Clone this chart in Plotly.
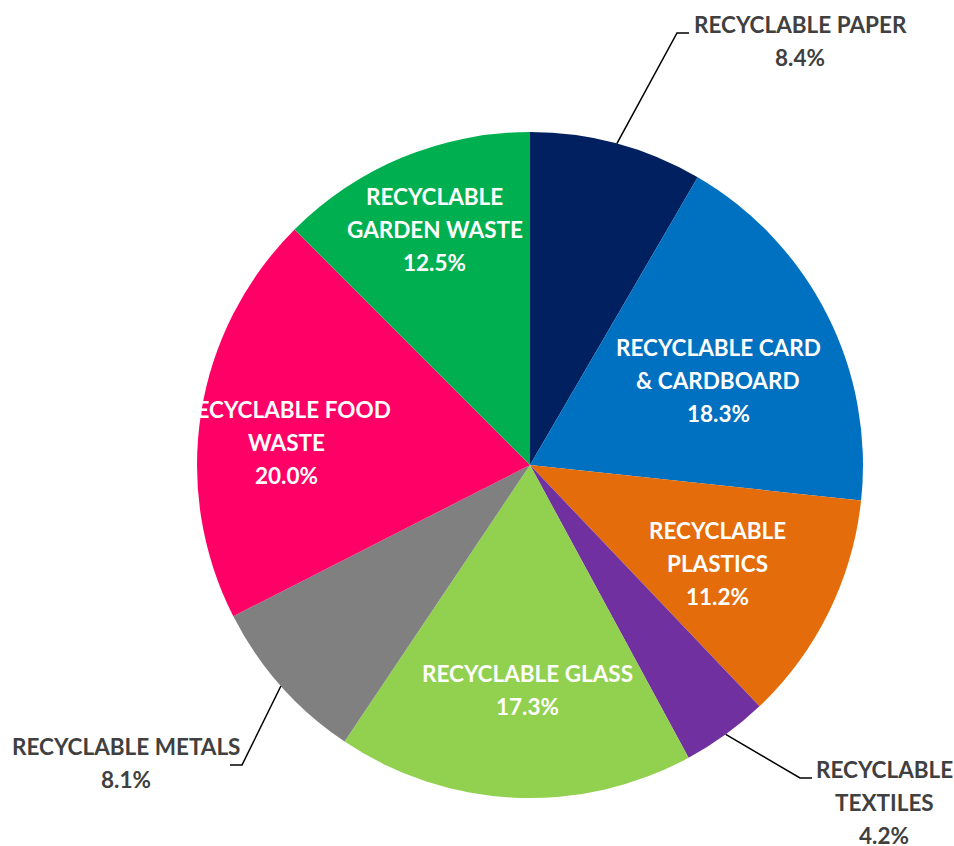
import math
import plotly.graph_objects as go

# Waste composition, clockwise from 12 o'clock
categories = [
    "RECYCLABLE PAPER",
    "RECYCLABLE CARD & CARDBOARD",
    "RECYCLABLE PLASTICS",
    "RECYCLABLE TEXTILES",
    "RECYCLABLE GLASS",
    "RECYCLABLE METALS",
    "RECYCLABLE FOOD WASTE",
    "RECYCLABLE GARDEN WASTE",
]
shares = [8.4, 18.3, 11.2, 4.2, 17.3, 8.1, 20.0, 12.5]
label_lines = [
    ["RECYCLABLE PAPER"],
    ["RECYCLABLE CARD", "& CARDBOARD"],
    ["RECYCLABLE", "PLASTICS"],
    ["RECYCLABLE", "TEXTILES"],
    ["RECYCLABLE GLASS"],
    ["RECYCLABLE METALS"],
    ["RECYCLABLE FOOD", "WASTE"],
    ["RECYCLABLE", "GARDEN WASTE"],
]

colors = ["#002060", "#0070C0", "#E46C0A", "#7030A0",
          "#92D050", "#808080", "#FF0066", "#00B050"]

W, H = 954, 846
CX, CY, R = 530, 465, 333          # pie centre and radius in pixels
FONT = "Lato"
FS = 22.5
LINE_GAP = 33                      # pixel spacing between label lines
OUT_COLOR = "#404040"

# inside labels: radius fraction along the slice bisector + pixel nudge
inside_style = {
    1: (0.62, (4, 9)),
    2: (0.645, (-5, 3)),
    4: (0.676, (8, 0)),
    6: (0.739, (0, 16)),
    7: (0.755, (1, -3)),
}
# outside labels: leader elbow, leader end, text block centre (pixels)
outside_style = {
    0: ((677, 33), (689, 33), (800, 41)),
    3: ((800, 778), (812, 778), (884, 802)),
    5: ((242, 765), (230, 765), (126, 763)),
}


def px(x, y):
    return x / W, 1 - y / H


def mid_angle(i):
    total = sum(shares)
    start = sum(shares[:i]) / total
    return 2 * math.pi * (start + shares[i] / total / 2)


def point_at(i, frac):
    a = mid_angle(i)
    return CX + frac * R * math.sin(a), CY - frac * R * math.cos(a)


fig = go.Figure(go.Pie(
    labels=categories,
    values=shares,
    sort=False,
    direction="clockwise",
    rotation=0,
    marker=dict(colors=colors, line=dict(width=0)),
    textinfo="none",
    hoverinfo="label+value",
    domain=dict(x=[(CX - R) / W, (CX + R) / W],
                y=[1 - (CY + R) / H, 1 - (CY - R) / H]),
))

annotations = []
shapes = []


def add_block(lines, cx, cy, color):
    n = len(lines)
    for k, t in enumerate(lines):
        y = cy + (k - (n - 1) / 2) * LINE_GAP
        xp, yp = px(cx, y)
        annotations.append(dict(
            x=xp, y=yp, xref="paper", yref="paper", text="<b>%s</b>" % t,
            showarrow=False, xanchor="center", yanchor="middle",
            font=dict(family=FONT, size=FS, color=color)))


for i in range(len(categories)):
    lines = label_lines[i] + ["%.1f%%" % shares[i]]
    if i in inside_style:
        frac, (dx, dy) = inside_style[i]
        x, y = point_at(i, frac)
        add_block(lines, x + dx, y + dy, "white")
    else:
        elbow, end, centre = outside_style[i]
        sx, sy = point_at(i, 1.0)
        p0, p1, p2 = px(sx, sy), px(*elbow), px(*end)
        shapes.append(dict(
            type="path", xref="paper", yref="paper",
            path="M %f,%f L %f,%f L %f,%f" % (p0 + p1 + p2),
            line=dict(color="black", width=1.5)))
        add_block(lines, centre[0], centre[1], OUT_COLOR)

fig.update_layout(
    width=W, height=H,
    margin=dict(l=0, r=0, t=0, b=0),
    paper_bgcolor="white",
    plot_bgcolor="white",
    showlegend=False,
    annotations=annotations,
    shapes=shapes,
)

fig.write_html("out.html")
